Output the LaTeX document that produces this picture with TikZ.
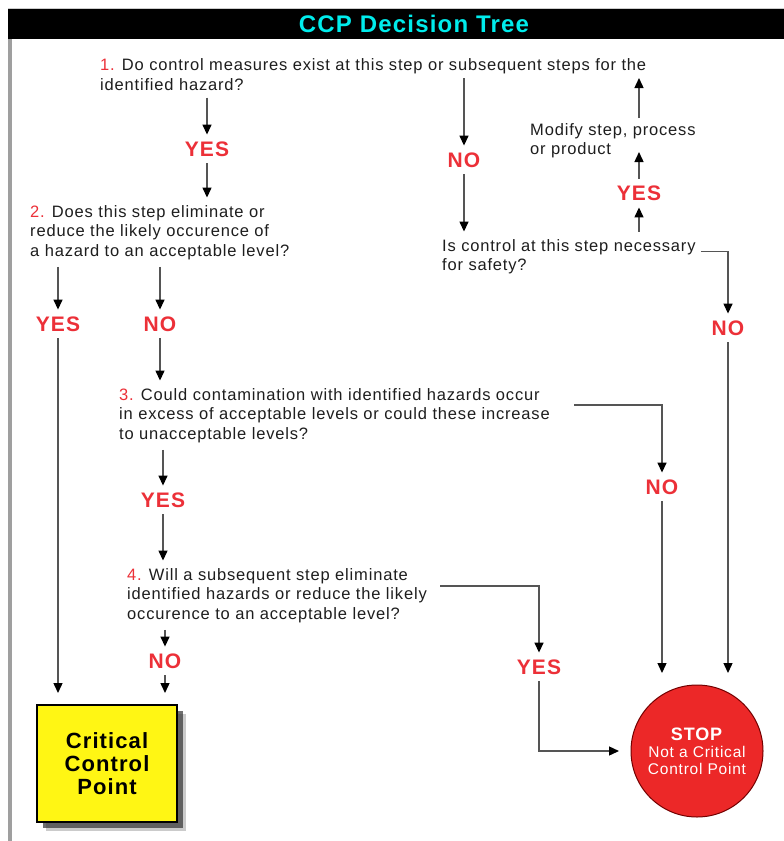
\documentclass[tikz,border=0pt]{standalone}
\usepackage{fontspec}
\setmainfont{Liberation Sans}[LetterSpace=5]
\usetikzlibrary{arrows.meta,shadows}
\definecolor{ccpred}{RGB}{236,48,56}
\definecolor{ccpline}{RGB}{85,85,85}
\definecolor{ccptext}{RGB}{30,30,30}
\definecolor{ccpcyan}{RGB}{0,236,236}
\definecolor{ccpyellow}{RGB}{255,246,20}
\definecolor{stopred}{RGB}{236,40,40}
\tikzset{
  quest/.style={align=left,anchor=base west,inner sep=0pt,outer ysep=7.5pt,text=ccptext,
    font=\fontsize{16.5}{19.5}\selectfont},
  ans/.style={inner sep=0pt,outer sep=7pt,text=ccpred,font=\bfseries\fontsize{21}{21}\selectfont},
  arr/.style={draw=ccpline,line width=1.4pt,-{Triangle[length=10pt,width=9pt,color=black]}},
  ccpbox/.style={rectangle,fill=ccpyellow,draw=black,line width=1.2pt,minimum width=140pt,
    minimum height=117pt,outer sep=12pt,align=center,font=\bfseries\fontsize{22}{23}\selectfont,
    drop shadow={shadow xshift=9pt,shadow yshift=-9pt,fill=black!40,opacity=.5},
    drop shadow={shadow xshift=6pt,shadow yshift=-6pt,fill=black!80,opacity=.7}},
  stopdisc/.style={circle,fill=stopred,draw=black!55!red,line width=1pt,minimum size=132pt,
    outer sep=12pt,text=white,align=center,font=\fontsize{15.5}{16.5}\selectfont}
}
\begin{document}
\begin{tikzpicture}[x=1pt,y=-1pt]
\useasboundingbox (0,0) rectangle (784,841);
\fill[white] (0,0) rectangle (784,841);
\draw[gray!40] (8,8.5) -- (784,8.5);
\fill[black] (8,9) rectangle (784,39);
\fill[gray!75] (8,39) rectangle (12,841);
\node[text=ccpcyan,font=\bfseries\fontsize{24}{24}\selectfont] (title) at (414,24) {CCP Decision Tree};
\node[quest] (1) at (100,90) {\textcolor{ccpred}{1.} Do control measures exist at this step or subsequent steps for the\\identified hazard?};
\node[ans] (y1) at (207,149) {YES};
\node[quest] (2) at (30,256) {\textcolor{ccpred}{2.} Does this step eliminate or\\reduce the likely occurence of\\a hazard to an acceptable level?};
\node[ans] (y2) at (58,324) {YES};
\node[ans] (n2) at (160,324) {NO};
\node[quest] (3) at (119,439) {\textcolor{ccpred}{3.} Could contamination with identified hazards occur\\in excess of acceptable levels or could these increase\\to unacceptable levels?};
\node[ans] (y3) at (163,500) {YES};
\node[ans] (n3) at (662,487) {NO};
\node[quest] (4) at (127,619) {\textcolor{ccpred}{4.} Will a subsequent step eliminate\\identified hazards or reduce the likely\\occurence to an acceptable level?};
\node[ans] (y4) at (539,667) {YES};
\node[ans] (n4) at (165,661) {NO};
\node[ans] (n1) at (464,160) {NO};
\node[quest] (s) at (442,270.5) {Is control at this step necessary\\for safety?};
\node[ans] (y5) at (639,193) {YES};
\node[quest] (m) at (530,154.5) {Modify step, process\\or product};
\node[ans] (n5) at (728,328) {NO};
\node[ccpbox] (ccp) at (107,763.5) {Critical\\Control\\Point};
\node[stopdisc] (stop) at (697,751) {\textbf{\fontsize{18}{19}\selectfont STOP}\\[1pt]Not a Critical\\Control Point};
\coordinate (1a) at ([yshift=12pt]1.base);
\coordinate (ma) at ([yshift=36.5pt]m.base);
\coordinate (mb) at ([yshift=2.5pt]m.base);
\draw[arr] (1.south -| y1) -- (y1.north);
\draw[arr] (y1.south) -- (y1 |- 2.north);
\draw[arr] (2.south -| y2) -- (y2.north);
\draw[arr] (y2.south) -- (y2 |- ccp.north);
\draw[arr] (2.south -| n2) -- (n2.north);
\draw[arr] (n2.south) -- (n2 |- 3.north);
\draw[arr] ([xshift=24pt,yshift=34pt]3.base east) -| (n3.north);
\draw[arr] (n3.south) -- (n3 |- stop.north);
\draw[arr] (3.south -| y3) -- (y3.north);
\draw[arr] (y3.south) -- (y3 |- 4.north);
\draw[arr] ([xshift=13pt,yshift=33pt]4.base east) -| (y4.north);
\draw[arr] (y4.south) |- (stop.west);
\draw[arr] (4.south -| n4) -- (n4.north);
\draw[arr] (n4.south) -- (n4 |- ccp.north);
\draw[arr] (1a -| n1) -- (n1.north);
\draw[arr] (n1.south) -- (n1 |- s.north);
\draw[arr] ([xshift=5pt,yshift=19pt]s.base east) -| (n5.north);
\draw[arr] (n5.south) -- (n5 |- stop.north);
\draw[arr] (y5 |- s.north) -- (y5.south);
\draw[arr] (y5.north) -- (y5 |- mb);
\draw[arr] (y5 |- ma) -- (y5 |- 1a);
\end{tikzpicture}
\end{document}
